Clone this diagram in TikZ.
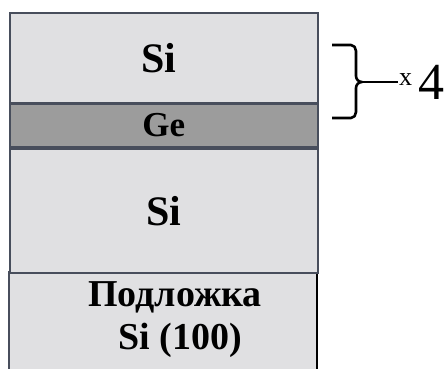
\documentclass[tikz,border=0pt]{standalone}
\usepackage{fontspec}
\setmainfont{Liberation Serif}
\begin{document}
\begin{tikzpicture}[x=1pt,y=-1pt,
  layer/.style={draw=edgec,line width=1.6pt,anchor=north west,inner sep=0pt,
    minimum width=308pt,font=\bfseries\fontsize{42}{44}\selectfont},
  sifill/.style={fill=sic},
  gefill/.style={fill=gec},
  bracestyle/.style={line width=2.6pt,line join=round},
  lbl/.style={inner sep=0pt,font=\bfseries\fontsize{38}{42}\selectfont}]
\definecolor{sic}{RGB}{224,224,226}
\definecolor{gec}{RGB}{156,156,156}
\definecolor{edgec}{RGB}{72,78,92}
\useasboundingbox (0,0) rectangle (448,369);
\clip (0,0) rectangle (448,369);
% substrate, cut by the lower edge
\fill[sic] (9,272) rectangle (317,375);
\draw[edgec,line width=1.6pt] (9,375) -- (9,272) -- (317,272);
\draw[black,line width=1.6pt] (317,272) -- (317,375);
\node[lbl] (sub1) at (175,297) {Подложка};
\node[lbl] (sub2) at (180,340) {Si (100)};
% epitaxial stack
\node[layer,sifill,minimum height=124pt] (si2) at (9,148) {Si};
\node[layer,gefill,minimum height=43pt,font=\bfseries\fontsize{35}{38}\selectfont] (ge) at (9,103) {Ge};
\node[layer,sifill,minimum height=90pt] (si1) at (9,12) {\hspace*{-10pt}Si};
% period brace
\coordinate (tip) at (362,82);
\draw[bracestyle] (332,45) -- (351,45) to[out=0,in=90] (356,51) -- (356,76)
  to[out=-90,in=180] (tip) to[out=180,in=90] (356,88) -- (356,112)
  to[out=-90,in=0] (351,118) -- (332,118);
\draw[line width=2pt] (tip) -- (398,82);
\node[inner sep=0pt,anchor=base west,font=\fontsize{26}{28}\selectfont] (xm) at (399,86) {x};
\node[inner sep=0pt,anchor=base west,font=\fontsize{52}{54}\selectfont] (four) at (418,100) {4};
\end{tikzpicture}
\end{document}
